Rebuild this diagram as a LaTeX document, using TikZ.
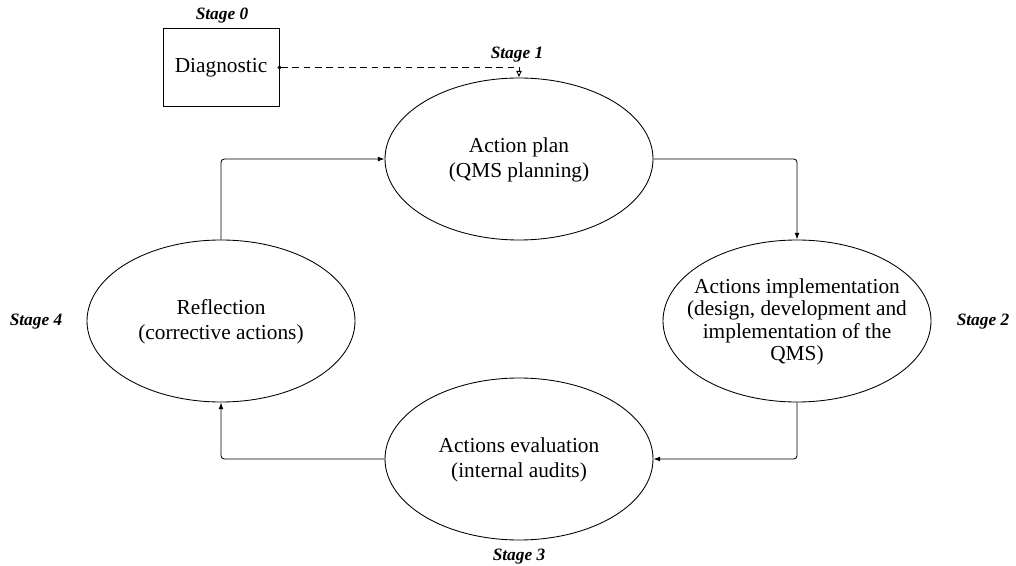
\documentclass[tikz,border=0pt]{standalone}
\usepackage{fontspec}
\setmainfont{Liberation Serif}
\usetikzlibrary{shapes.geometric,arrows.meta}
\begin{document}
\begin{tikzpicture}[x=0.75pt,y=-0.75pt,
  stageell/.style={draw,ellipse,minimum width=201pt,minimum height=121.5pt,inner sep=0pt,line width=0.65pt},
  diagbox/.style={draw,rectangle,minimum width=87pt,minimum height=59pt,inner sep=0pt,line width=0.65pt,font=\fontsize{16}{19}\selectfont},
  body/.style={align=center,font=\fontsize{16}{18.5}\selectfont,inner sep=0pt},
  bodytight/.style={align=center,font=\fontsize{16}{16.9}\selectfont,inner sep=0pt},
  stagelbl/.style={font=\fontsize{13}{15}\selectfont\bfseries\itshape,inner sep=0pt},
  flow/.style={line width=0.65pt,rounded corners=2.5pt,-{Latex[length=5pt,width=3.6pt]}},
  dashflow/.style={line width=0.65pt,dash pattern=on 5pt off 3.5pt,{Circle[open,length=3pt,width=3pt]}-{Latex[open,length=5pt,width=4.5pt]},shorten <=-1.5pt}
]
\useasboundingbox (0,0) rectangle (1016,566);

\node[diagbox] (diag) at (221,67.5) {Diagnostic};
\node[stagelbl] (s0) at (222,16) {Stage 0};

\node[stageell] (e1) at (519,159) {};
\node[body] (t1) at (519,160) {Action plan\\(QMS planning)};
\node[stagelbl] (s1) at (517,55) {Stage 1};

\node[stageell] (e2) at (797,321) {};
\node[bodytight] (t2) at (797,322) {Actions implementation\\(design, development and\\implementation of the\\QMS)};
\node[stagelbl] (s2) at (983,322) {Stage 2};

\node[stageell] (e3) at (519,459) {};
\node[body] (t3) at (519,460) {Actions evaluation\\(internal audits)};
\node[stagelbl] (s3) at (519,557) {Stage 3};

\node[stageell] (e4) at (221,321) {};
\node[body] (t4) at (221,322) {Reflection\\(corrective actions)};
\node[stagelbl] (s4) at (36,322) {Stage 4};

\draw[flow] (e1.east) -| (e2.north);
\draw[flow] (e2.south) |- (e3.east);
\draw[flow] (e3.west) -| (e4.south);
\draw[flow] (e4.north) |- (e1.west);
\draw[dashflow] (diag.east) -| (e1.north);
\end{tikzpicture}
\end{document}
